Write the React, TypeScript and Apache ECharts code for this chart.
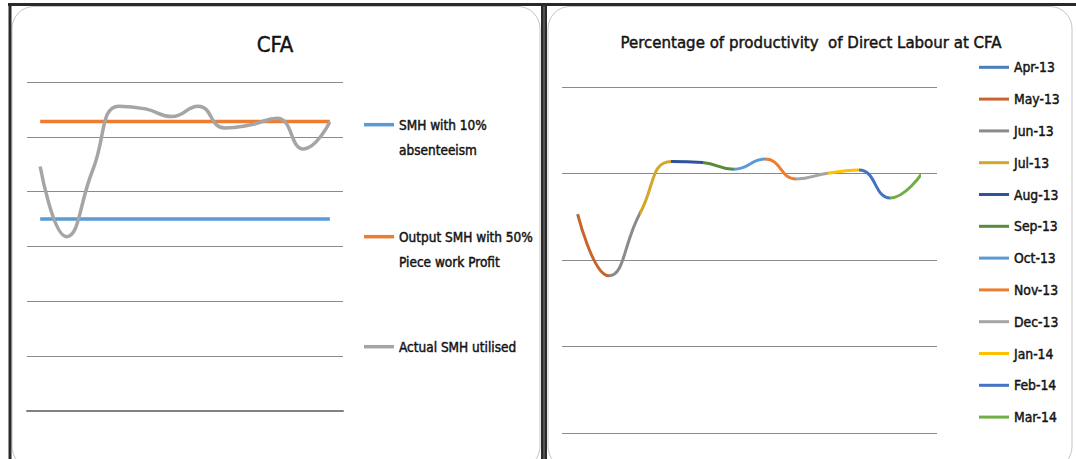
import React, { useEffect, useRef } from 'react';
import * as echarts from 'echarts';

const months = ['Apr-13', 'May-13', 'Jun-13', 'Jul-13', 'Aug-13', 'Sep-13', 'Oct-13', 'Nov-13', 'Dec-13', 'Jan-14', 'Feb-14', 'Mar-14'];

// Left chart (CFA)
const smhAbsenteeism = [3500, 3500, 3500, 3500, 3500, 3500, 3500, 3500, 3500, 3500, 3500, 3500];
const outputSmh = [5280, 5280, 5280, 5280, 5280, 5280, 5280, 5280, 5280, 5280, 5280, 5280];
const actualSmh = [4460, 3180, 4400, 5560, 5510, 5370, 5560, 5160, 5220, 5340, 4780, 5270];
const leftSeriesNames = ['SMH with 10% absenteeism', 'Output SMH with 50% Piece work Profit', 'Actual SMH utilised'];
const leftLegendLabels = ['\nSMH with 10%\nabsenteeism', '\nOutput SMH with 50%\nPiece work Profit', 'Actual SMH utilised'];
const leftColors = ['#5B9BD5', '#ED7D31', '#A5A5A5'];

// Right chart (productivity %)
const productivity = [75.9, 54.5, 76.3, 94.2, 93.8, 91.5, 95.0, 88.1, 90.1, 91.2, 81.5, 89.8];
const monthColors = ['#4A7EBB', '#C8652C', '#8A8A8A', '#D4A62A', '#2F529A', '#5A8A3A', '#5B9BD5', '#ED7D31', '#A5A5A5', '#FFC000', '#4472C4', '#70AD47'];

const FONT = "'DejaVu Sans Condensed', 'Liberation Sans', sans-serif";
const TEXT = '#141414';
const GRID = '#8a8a8a';
const heavy = { textBorderColor: TEXT, textBorderWidth: 0.45 };

export default function App() {
  const ref = useRef<HTMLDivElement>(null);
  useEffect(() => {
    if (!ref.current) return;
    const chart = echarts.init(ref.current, undefined, { renderer: 'svg' });
    const hiddenAxis = { axisLabel: { show: false }, axisTick: { show: false }, axisLine: { show: false } };
    const option: any = {
      animation: false,
      backgroundColor: '#ffffff',
      title: [
        { text: 'CFA', left: 275, top: 33, textAlign: 'center', padding: 0, textStyle: { fontFamily: FONT, fontSize: 22, fontWeight: 'normal', color: TEXT, ...heavy } },
        { text: 'Percentage of productivity  of Direct Labour at CFA', left: 811, top: 33, textAlign: 'center', padding: 0, textStyle: { fontFamily: FONT, fontSize: 16.7, fontWeight: 'normal', color: TEXT, ...heavy } },
      ],
      grid: [
        { left: 27, top: 82, width: 316, height: 329 },
        { left: 562, top: 87, width: 375, height: 346 },
      ],
      xAxis: [
        { gridIndex: 0, type: 'category', data: months, boundaryGap: true, axisLabel: { show: false }, axisTick: { show: false }, axisLine: { show: true, lineStyle: { color: '#808080', width: 2 } } },
        { gridIndex: 1, type: 'category', data: months, boundaryGap: true, ...hiddenAxis },
      ],
      yAxis: [
        { gridIndex: 0, type: 'value', min: 0, max: 6000, interval: 1000, ...hiddenAxis, splitLine: { show: true, lineStyle: { color: GRID, width: 1 } } },
        { gridIndex: 1, type: 'value', min: 0, max: 120, interval: 30, ...hiddenAxis, splitLine: { show: true, lineStyle: { color: GRID, width: 1 } } },
      ],
      legend: [
        ...leftSeriesNames.map((n, i) => ({
          data: [n],
          left: 364,
          top: [87.2, 199.2, 334.2][i],
          orient: 'vertical',
          icon: 'rect',
          itemWidth: 30,
          itemHeight: 3.5,
          itemGap: 0,
          padding: 0,
          selectedMode: false,
          formatter: () => leftLegendLabels[i],
          textStyle: { fontFamily: FONT, fontSize: 13.5, lineHeight: 25, color: TEXT, ...heavy },
        })),
        {
          data: months,
          left: 979,
          top: 59.3,
          orient: 'vertical',
          icon: 'rect',
          itemWidth: 30,
          itemHeight: 3,
          itemGap: 15.8,
          padding: 0,
          selectedMode: false,
          textStyle: { fontFamily: FONT, fontSize: 13.8, lineHeight: 16, color: TEXT, ...heavy },
        },
      ],
      visualMap: {
        show: false,
        type: 'piecewise',
        seriesIndex: 3,
        dimension: 0,
        pieces: months.map((m, i) => (i === 0 ? { lte: 0, color: monthColors[0] } : { gt: i - 1, lte: i, color: monthColors[i] })),
      },
      series: [
        { name: leftSeriesNames[0], type: 'line', xAxisIndex: 0, yAxisIndex: 0, data: smhAbsenteeism, symbol: 'none', lineStyle: { color: leftColors[0], width: 3.5 }, itemStyle: { color: leftColors[0] } },
        { name: leftSeriesNames[1], type: 'line', xAxisIndex: 0, yAxisIndex: 0, data: outputSmh, symbol: 'none', lineStyle: { color: leftColors[1], width: 3.5 }, itemStyle: { color: leftColors[1] } },
        { name: leftSeriesNames[2], type: 'line', xAxisIndex: 0, yAxisIndex: 0, data: actualSmh, smooth: 0.5, symbol: 'none', lineStyle: { color: leftColors[2], width: 3.5 }, itemStyle: { color: leftColors[2] } },
        { name: 'Productivity', type: 'line', xAxisIndex: 1, yAxisIndex: 1, data: productivity, smooth: 0.5, symbol: 'none', lineStyle: { width: 3 } },
        ...months.map((m, i) => ({ name: m, type: 'line', xAxisIndex: 1, yAxisIndex: 1, data: [], symbol: 'none', lineStyle: { color: monthColors[i] }, itemStyle: { color: monthColors[i] } })),
      ],
      graphic: [
        { type: 'rect', silent: true, z: -10, shape: { x: 12, y: 6.5, width: 528, height: 462, r: 22 }, style: { fill: 'none', stroke: '#c4c4c4', lineWidth: 1 } },
        { type: 'rect', silent: true, z: -10, shape: { x: 548, y: 6.5, width: 524, height: 462, r: 22 }, style: { fill: 'none', stroke: '#c4c4c4', lineWidth: 1 } },
        { type: 'rect', silent: true, shape: { x: 8, y: 3, width: 1068, height: 3 }, style: { fill: '#2a2a2a' } },
        { type: 'rect', silent: true, shape: { x: 8.5, y: 3, width: 3, height: 456 }, style: { fill: '#2a2a2a' } },
        { type: 'rect', silent: true, shape: { x: 541, y: 3, width: 6, height: 456 }, style: { fill: '#2a2a2a' } },
        { type: 'rect', silent: true, shape: { x: 543.5, y: 6, width: 1, height: 453 }, style: { fill: '#7a7a7a' } },
      ],
    };
    chart.setOption(option);
    return () => chart.dispose();
  }, []);
  return <div ref={ref} style={{ position: 'fixed', left: 0, top: 0, width: 1076, height: 459 }} />;
}
